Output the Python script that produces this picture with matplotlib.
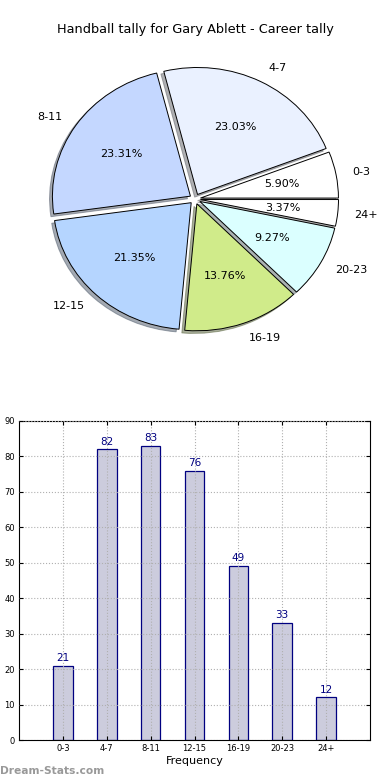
import matplotlib
matplotlib.use('Agg')
import matplotlib.pyplot as plt

# Handball tally
labels = ['0-3', '4-7', '8-11', '12-15', '16-19', '20-23', '24+']
counts = [21, 82, 83, 76, 49, 33, 12]
pie_colors = ['#ffffff', '#eaf1ff', '#c4d7ff', '#b5d5ff', '#d0eb8a', '#dbffff', '#ffffff']

fig = plt.figure(figsize=(3.9, 7.8), dpi=100)

fig.text(0.5, 1 - 30 / 780, 'Handball tally for Gary Ablett - Career tally',
         ha='center', va='center', fontsize=9.3)

# pie, placed by pixels: centre (195, 199); slightly squashed vertically like the original
RX = 138.0
RY = 127.0
ax1 = fig.add_axes([0, 1 - 350 / 780, 1, 300 / 780])
wedges, texts, autotexts = ax1.pie(counts, labels=labels, colors=pie_colors,
                                   explode=[0.04] * len(counts), autopct='%.2f%%',
                                   shadow={'ox': -0.015, 'oy': -0.015, 'shade': 0.6},
                                   startangle=0, labeldistance=1.12,
                                   pctdistance=0.6,
                                   wedgeprops={'edgecolor': 'black', 'linewidth': 0.7},
                                   textprops={'fontsize': 8})
ax1.set_aspect('auto')
ax1.set_xlim(-195 / RX, 195 / RX)
ax1.set_ylim(-151 / RY, 149 / RY)
ax1.axis('off')

# bar chart
ax2 = fig.add_axes([19 / 390, 1 - 740 / 780, 351 / 390, 319 / 780])
x = range(len(labels))
bars = ax2.bar(x, counts, width=0.45, color='#ccccdd', edgecolor='#000080', linewidth=0.9)
for i, v in enumerate(counts):
    ax2.text(i, v + 0.8, str(v), ha='center', va='bottom', color='#000080', fontsize=7.5)

ax2.set_xlim(-1, 7)
ax2.set_ylim(0, 90)
ax2.set_xticks(list(x))
ax2.set_xticklabels(labels)
ax2.set_yticks(range(0, 91, 10))
ax2.tick_params(labelsize=6, direction='in', top=True, right=True, length=3, pad=3)
ax2.grid(True, linestyle=':', color='#b0b0b0', linewidth=0.8)
ax2.set_axisbelow(False)
ax2.set_xlabel('Frequency', fontsize=8, labelpad=2)

fig.text(0.0, 1 - 771 / 780, 'Dream-Stats.com', color='#999999', fontsize=7.7,
         fontweight='bold', ha='left', va='center')

fig.savefig('out.png', dpi=100)
